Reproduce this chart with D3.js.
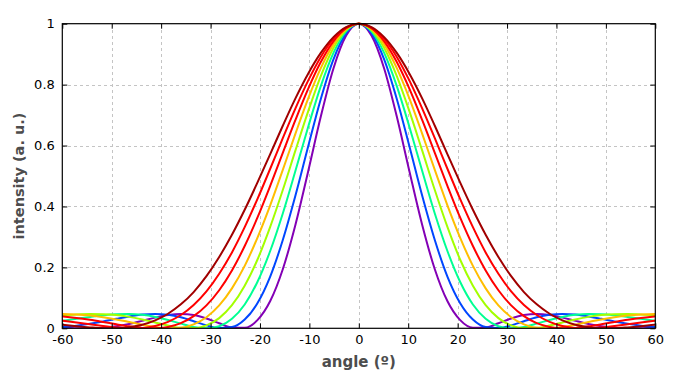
<!DOCTYPE html>
<html>
<head>
<meta charset="utf-8">
<script src="https://cdn.jsdelivr.net/npm/d3@7"></script>
<style>
  body { margin: 0; background: #fff; }
  svg text { font-family: "DejaVu Sans", Verdana, sans-serif; }
</style>
</head>
<body>
<svg id="chart" width="700" height="375"></svg>
<script>
// angles (degrees) at which the curves were read, shared by all curves
const angles = [-62.58,-59.82,-57.10,-54.41,-51.74,-49.09,-46.45,-43.83,-41.21,-38.61,-36.01,-33.42,-30.83,-28.25,-25.67,-23.09,-20.52,-17.95,-15.38,-12.82,-10.25,-7.69,-5.13,-2.56,
  0,2.56,5.13,7.69,10.25,12.82,15.38,17.95,20.52,23.09,25.67,28.25,30.83,33.42,36.01,38.61,41.21,43.83,46.45,49.09,51.74,54.41,57.10,59.82,62.58];

// intensity, violet -> dark red
const i400 = [0.0053,0.0025,0.0005,0.0001,0.0019,0.0067,0.0144,0.0244,0.0350,0.0435,0.0472,0.0436,0.0324,0.0165,0.0028,0.0020,0.0268,0.0886,0.194,0.340,0.515,0.695,0.853,0.961,
  1,0.961,0.853,0.695,0.515,0.340,0.194,0.0886,0.0268,0.0020,0.0028,0.0165,0.0324,0.0436,0.0472,0.0435,0.0350,0.0244,0.0144,0.0067,0.0019,0.0001,0.0005,0.0025,0.0053];
const i450 = [0.0015,0.0043,0.0087,0.0150,0.0226,0.0310,0.0390,0.0450,0.0472,0.0443,0.0360,0.0233,0.0096,0.0006,0.0041,0.0287,0.0822,0.169,0.290,0.436,0.597,0.753,0.883,0.969,
  1,0.969,0.883,0.753,0.597,0.436,0.290,0.169,0.0822,0.0287,0.0041,0.0006,0.0096,0.0233,0.0360,0.0443,0.0472,0.0450,0.0390,0.0310,0.0226,0.0150,0.0087,0.0043,0.0015];
const i500 = [0.0188,0.0247,0.0311,0.0373,0.0427,0.0463,0.0471,0.0442,0.0374,0.0273,0.0153,0.0047,0.0000,0.0067,0.0310,0.0781,0.152,0.253,0.377,0.517,0.661,0.795,0.904,0.975,
  1,0.975,0.904,0.795,0.661,0.517,0.377,0.253,0.152,0.0781,0.0310,0.0067,0.0000,0.0047,0.0153,0.0273,0.0374,0.0442,0.0471,0.0463,0.0427,0.0373,0.0311,0.0247,0.0188];
const i550 = [0.0387,0.0426,0.0456,0.0471,0.0465,0.0434,0.0375,0.0290,0.0190,0.0090,0.0017,0.0006,0.0097,0.0335,0.0759,0.140,0.225,0.332,0.454,0.584,0.712,0.828,0.920,0.979,
  1,0.979,0.920,0.828,0.712,0.584,0.454,0.332,0.225,0.140,0.0759,0.0335,0.0097,0.0006,0.0017,0.0090,0.0190,0.0290,0.0375,0.0434,0.0465,0.0471,0.0456,0.0426,0.0387];
const i600 = [0.0471,0.0469,0.0452,0.0417,0.0363,0.0291,0.0206,0.0119,0.0044,0.0002,0.0021,0.0131,0.0365,0.0750,0.131,0.205,0.297,0.403,0.520,0.639,0.754,0.854,0.932,0.983,
  1,0.983,0.932,0.854,0.754,0.639,0.520,0.403,0.297,0.205,0.131,0.0750,0.0365,0.0131,0.0021,0.0002,0.0044,0.0119,0.0206,0.0291,0.0363,0.0417,0.0452,0.0469,0.0471];
const i650 = [0.0427,0.0389,0.0339,0.0277,0.0206,0.0132,0.0064,0.0014,0.0001,0.0045,0.0170,0.0398,0.0753,0.125,0.190,0.270,0.363,0.467,0.576,0.684,0.786,0.874,0.942,0.985,
  1,0.985,0.942,0.874,0.786,0.684,0.576,0.467,0.363,0.270,0.190,0.125,0.0753,0.0398,0.0170,0.0045,0.0001,0.0014,0.0064,0.0132,0.0206,0.0277,0.0339,0.0389,0.0427];
const i700 = [0.0304,0.0251,0.0192,0.0131,0.0072,0.0025,0.0001,0.0013,0.0077,0.0212,0.0436,0.0765,0.121,0.179,0.249,0.332,0.424,0.523,0.624,0.722,0.813,0.891,0.950,0.987,
  1,0.987,0.950,0.891,0.813,0.722,0.624,0.523,0.424,0.332,0.249,0.179,0.121,0.0765,0.0436,0.0212,0.0077,0.0013,0.0001,0.0025,0.0072,0.0131,0.0192,0.0251,0.0304];
const i750 = [0.0166,0.0116,0.0069,0.0030,0.0004,0.0003,0.0036,0.0117,0.0260,0.0478,0.0786,0.119,0.171,0.234,0.307,0.389,0.478,0.571,0.665,0.755,0.836,0.904,0.956,0.989,
  1,0.989,0.956,0.904,0.836,0.755,0.665,0.571,0.478,0.389,0.307,0.234,0.171,0.119,0.0786,0.0478,0.0260,0.0117,0.0036,0.0003,0.0004,0.0030,0.0069,0.0116,0.0166];

const seriesValues = [i400, i450, i500, i550, i600, i650, i700, i750];
const seriesColors = ["#8300b5", "#0046ff", "#00ff92", "#a3ff00", "#ffbe00", "#ff0000", "#ff0000", "#a10000"];

const xTicks = [-60, -50, -40, -30, -20, -10, 0, 10, 20, 30, 40, 50, 60];
const yTicks = [0, 0.2, 0.4, 0.6, 0.8, 1];
const yTickLabels = ["0", "0.2", "0.4", "0.6", "0.8", "1"];

const svg = d3.select("#chart");
const pL = 62.3, pR = 655.3, pT = 23.7, pB = 328.3;

const x = d3.scaleLinear().domain([-60, 60]).range([pL, pR]);
const y = d3.scaleLinear().domain([0, 1]).range([pB, pT]);

// grid
const grid = svg.append("g")
  .attr("stroke", "#c4c4c4")
  .attr("stroke-width", 1)
  .attr("stroke-dasharray", "3,3")
  .attr("shape-rendering", "crispEdges");
grid.selectAll(".gx").data(xTicks.slice(1, -1)).enter().append("line")
  .attr("x1", d => Math.round(x(d)) + 0.5).attr("x2", d => Math.round(x(d)) + 0.5)
  .attr("y1", pT).attr("y2", pB);
grid.selectAll(".gy").data(yTicks.slice(1, -1)).enter().append("line")
  .attr("y1", d => Math.round(y(d)) + 0.5).attr("y2", d => Math.round(y(d)) + 0.5)
  .attr("x1", pL).attr("x2", pR);

// curves
const line = d3.line()
  .x((d, i) => x(angles[i]))
  .y(d => y(d))
  .curve(d3.curveMonotoneX);

svg.append("defs").append("clipPath").attr("id", "plotclip")
  .append("rect").attr("x", pL).attr("y", pT - 2).attr("width", pR - pL).attr("height", pB - pT + 2);

svg.append("g").attr("clip-path", "url(#plotclip)")
  .selectAll("path").data(seriesValues).enter().append("path")
  .attr("d", d => line(d))
  .attr("fill", "none")
  .attr("stroke", (d, i) => seriesColors[i])
  .attr("stroke-width", 2)
  .attr("stroke-linejoin", "round");

// axes (ticks inward, mirrored on top/right)
function styleAxis(g) {
  g.select(".domain").remove();
  g.selectAll("line").attr("stroke", "#000");
  g.selectAll("text").attr("fill", "#000").attr("font-size", "13px");
}
svg.append("g").attr("transform", `translate(0,${pB})`)
  .call(d3.axisBottom(x).tickValues(xTicks).tickFormat(d => String(d)).tickSizeInner(-5).tickSizeOuter(0).tickPadding(6))
  .call(styleAxis);
svg.append("g").attr("transform", `translate(0,${pT})`)
  .call(d3.axisTop(x).tickValues(xTicks).tickFormat("").tickSizeInner(-5).tickSizeOuter(0))
  .call(styleAxis);
svg.append("g").attr("transform", `translate(${pL},0)`)
  .call(d3.axisLeft(y).tickValues(yTicks).tickFormat((d, i) => yTickLabels[i]).tickSizeInner(-5).tickSizeOuter(0).tickPadding(7.5))
  .call(styleAxis);
svg.append("g").attr("transform", `translate(${pR},0)`)
  .call(d3.axisRight(y).tickValues(yTicks).tickFormat("").tickSizeInner(-5).tickSizeOuter(0))
  .call(styleAxis);

// frame
svg.append("rect")
  .attr("x", pL).attr("y", pT).attr("width", pR - pL).attr("height", pB - pT)
  .attr("fill", "none").attr("stroke", "#000").attr("stroke-width", 1.2);

// titles
svg.append("text")
  .attr("x", (pL + pR) / 2).attr("y", 367)
  .attr("text-anchor", "middle")
  .attr("font-size", "15px").attr("font-weight", "bold").attr("fill", "#4d4d4d")
  .text("angle (º)");
svg.append("text")
  .attr("transform", `translate(24,${(pT + pB) / 2}) rotate(-90)`)
  .attr("text-anchor", "middle")
  .attr("font-size", "14.5px").attr("font-weight", "bold").attr("fill", "#4d4d4d")
  .text("intensity (a. u.)");
</script>
</body>
</html>
